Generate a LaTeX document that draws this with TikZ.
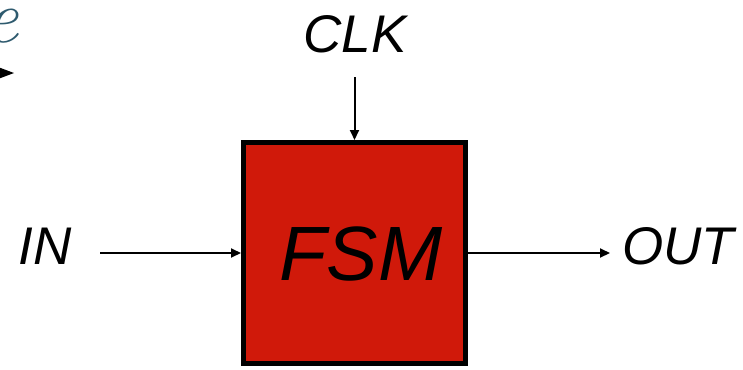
\documentclass[tikz,border=0pt]{standalone}
\usepackage{fontspec}
\setmainfont{Liberation Sans}
\newfontfamily\serifit{Latin Modern Roman}
\usetikzlibrary{arrows.meta}
\definecolor{fsmred}{HTML}{D0190A}
\definecolor{tealtext}{HTML}{2E5A6E}
\tikzset{
  lbl/.style={font=\fontsize{53}{53}\selectfont\itshape, inner sep=0pt},
  conn/.style={line width=2pt, -{Triangle[length=10pt,width=9pt]}},
}
\begin{document}
\begin{tikzpicture}[x=1pt,y=-1pt]
\useasboundingbox (0,0) rectangle (743,369);
\begin{scope}
\clip (0,0) rectangle (743,369);
\node[font=\fontsize{76}{76}\selectfont\serifit\itshape, text=tealtext, inner sep=0pt, anchor=base] (efrag) at (2,43) {e};
\fill (-10,64) -- (14,73) -- (-10,82) -- cycle;
\end{scope}
\node[draw, line width=5pt, fill=fsmred, minimum width=222pt, minimum height=221pt, inner sep=0pt] (fsm) at (354.5,253) {};
\node[font=\fontsize{77}{77}\selectfont\itshape, inner sep=0pt] (fsmtxt) at (361,254) {FSM};
\node[lbl] (clk) at (355,34) {CLK};
\node[lbl] (in) at (45,246) {IN};
\node[lbl] (out) at (678,246) {OUT};
\coordinate (clkstart) at (354.5,77);
\coordinate (instart) at (100,253);
\coordinate (outend) at (610,253);
\draw[conn] (clkstart) -- (fsm.north);
\draw[conn] (instart) -- (fsm.west);
\draw[conn] (fsm.east) -- (outend);
\end{tikzpicture}
\end{document}
